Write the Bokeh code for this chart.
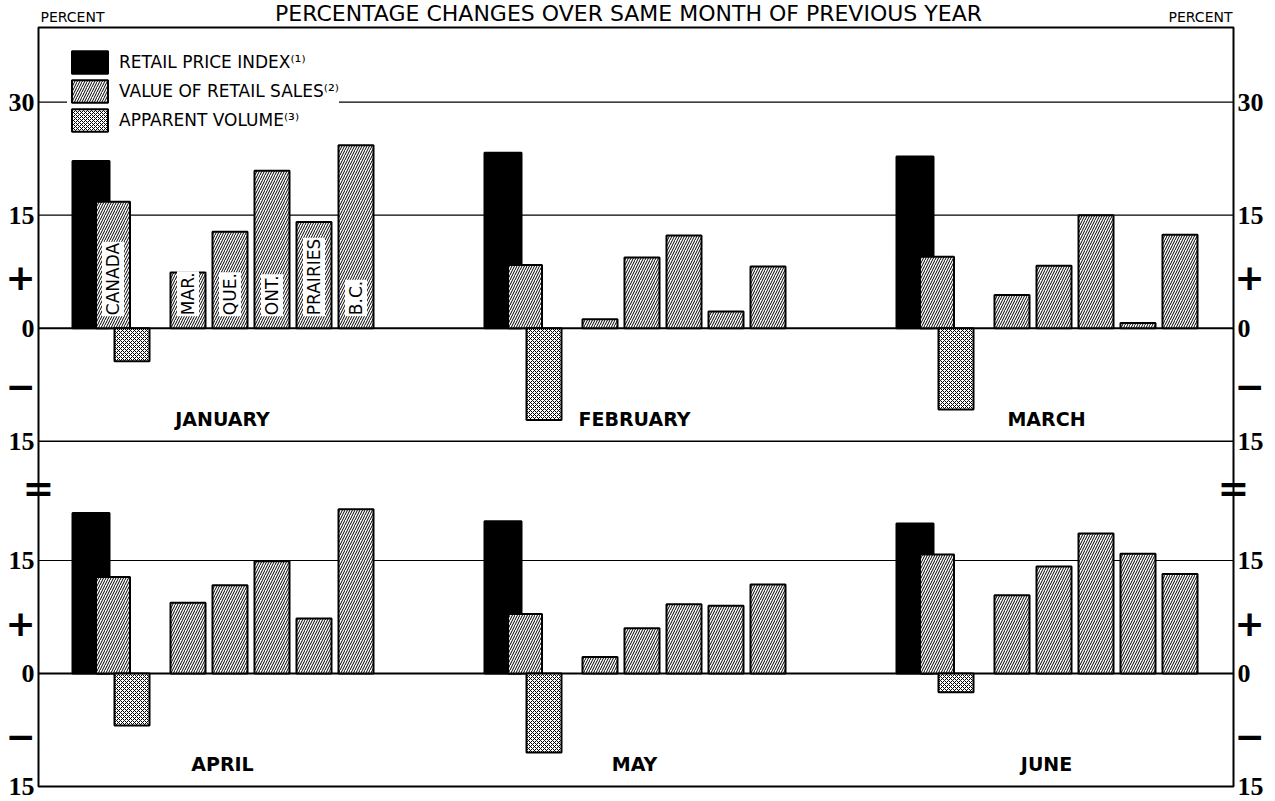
import math
from bokeh.plotting import figure
from bokeh.models import (Legend, LegendItem, LinearAxis, FixedTicker, BoxAnnotation,
                          ColumnDataSource, Range1d)
from bokeh.embed import file_html
from bokeh.resources import INLINE
from bokeh.core.properties import value

# ---------------- data ----------------
months = ["JANUARY", "FEBRUARY", "MARCH", "APRIL", "MAY", "JUNE"]
retail_price_index = [22.2, 23.3, 22.8, 21.3, 20.2, 19.9]
sales_canada = [16.8, 8.4, 9.5, 12.8, 7.9, 15.8]
apparent_volume = [-4.4, -12.2, -10.8, -6.9, -10.5, -2.5]
regions = ["MAR.", "QUE.", "ONT.", "PRAIRIES", "B.C."]
sales_mar = [7.4, 1.2, 4.4, 9.4, 2.2, 10.4]
sales_que = [12.8, 9.4, 8.3, 11.7, 6.0, 14.2]
sales_ont = [20.9, 12.3, 15.0, 14.9, 9.2, 18.6]
sales_prairies = [14.1, 2.2, 0.7, 7.3, 9.0, 15.9]
sales_bc = [24.3, 8.2, 12.4, 21.8, 11.8, 13.2]
canada_label = "CANADA"
legend_labels = ["RETAIL PRICE INDEX\u207d\u00b9\u207e",
                 "VALUE OF RETAIL SALES\u207d\u00b2\u207e",
                 "APPARENT VOLUME\u207d\u00b3\u207e"]
title_text = "PERCENTAGE CHANGES OVER SAME MONTH OF PREVIOUS YEAR"
unit_text = "PERCENT"
upper_ticks = [30, 15, 0, -15]
upper_tick_labels = ["30", "15", "0", "15"]
lower_ticks = [15, 0, -15]
lower_tick_labels = ["15", "0", "15"]
upper_grid = [30, 15, 0, -15]
lower_grid = [15, 0]
sign_labels = ["+", "\u2212"]
break_label = "="

regional_sales = [sales_mar, sales_que, sales_ont, sales_prairies, sales_bc]

# ---------------- layout ----------------
W, H = 1275, 801
FRAME_W = 1195                       # width of the boxed chart area (x units = px)
X_LEFT, X_RIGHT = -38, 1237          # canvas extent in x units
PANEL_OFFSET = 45.84                 # lower panel shift (value units)
Y_CANVAS_TOP, Y_CANVAS_BOTTOM = 43.50, -62.83
BOX_TOP = 39.92
BOX_BOTTOM = -15 - PANEL_OFFSET
GROUP_START, GROUP_PITCH = 34, 412
RPI_DX, RPI_W = 18.5, 37
CAN_DX, CAN_W = 40.5, 34
VOL_DX, VOL_W = 59.5, 35
PROV_DX, PROV_PITCH, PROV_W = 115.5, 42, 35
MONTH_DX, MONTH_Y = 150, -12.0
LABEL_Y = 1.6
SIGN_Y_UPPER = [6.8, -7.7]
SIGN_Y_LOWER = [6.7, -8.3]
SIGN_X = [-18, FRAME_W + 16]
BREAK_Y = -21.15
TITLE_X, TITLE_Y, UNIT_Y = 590, 41.78, 41.25

p = figure(width=W, height=H, output_backend="svg", toolbar_location=None,
           x_range=Range1d(X_LEFT, X_RIGHT),
           y_range=Range1d(Y_CANVAS_BOTTOM, Y_CANVAS_TOP),
           x_axis_location=None, min_border=0, tools="")
p.extra_y_ranges = {"lower": Range1d(Y_CANVAS_BOTTOM + PANEL_OFFSET,
                                     Y_CANVAS_TOP + PANEL_OFFSET)}
p.xgrid.visible = False
p.ygrid.visible = False
p.outline_line_color = None

# chart box
p.add_layout(BoxAnnotation(left=0, right=FRAME_W, top=BOX_TOP, bottom=BOX_BOTTOM,
                           fill_alpha=0, line_color="black", line_alpha=1.0,
                           line_width=2, level="underlay"))

# axes: fixed at the box sides, labels outside the box
all_ticks = upper_ticks + [t - PANEL_OFFSET for t in lower_ticks]
all_labels = upper_tick_labels + lower_tick_labels
overrides = {t: l for t, l in zip(all_ticks, all_labels)}


def style_axis(ax, loc):
    ax.fixed_location = loc
    ax.ticker = FixedTicker(ticks=all_ticks)
    ax.major_label_overrides = overrides
    ax.axis_line_color = None
    ax.major_tick_line_color = None
    ax.minor_tick_line_color = None
    ax.major_tick_out = 0
    ax.major_tick_in = 0
    ax.minor_tick_out = 0
    ax.major_label_standoff = 4
    ax.major_label_text_font = "Liberation Sans Narrow"
    ax.major_label_text_font_style = "bold"
    ax.major_label_text_font_size = "26px"
    ax.major_label_text_color = "black"


style_axis(p.yaxis[0], 0)
right_axis = LinearAxis()
style_axis(right_axis, FRAME_W)
p.add_layout(right_axis, "right")

# grid lines across the box
p.segment(x0=0, x1=FRAME_W, y0=upper_grid, y1=upper_grid, line_color="black",
          line_width=[1.2, 1.2, 2, 1.6])
p.segment(x0=0, x1=FRAME_W, y0=lower_grid, y1=lower_grid, line_color="black",
          line_width=[1.2, 2], y_range_name="lower")

hatch_value = dict(fill_color="white", line_color="black", line_width=2,
                   hatch_pattern="right_diagonal_line", hatch_scale=5, hatch_weight=1,
                   hatch_color="black")
hatch_volume = dict(fill_color="white", line_color="black", line_width=2,
                    hatch_pattern="diagonal_cross", hatch_scale=4, hatch_weight=1,
                    hatch_color="black")

legend_renderers = None
for panel, yr in ((0, "default"), (1, "lower")):
    idx = list(range(3 * panel, 3 * panel + 3))
    gx = [GROUP_START + GROUP_PITCH * (i - 3 * panel) for i in idx]

    src_rpi = ColumnDataSource(dict(x=[g + RPI_DX for g in gx],
                                    top=[retail_price_index[i] for i in idx]))
    r1 = p.vbar(x="x", top="top", bottom=0, width=RPI_W, source=src_rpi,
                y_range_name=yr, fill_color="black", line_color="black", line_width=2)

    src_can = ColumnDataSource(dict(x=[g + CAN_DX for g in gx],
                                    top=[sales_canada[i] for i in idx]))
    r2 = p.vbar(x="x", top="top", bottom=0, width=CAN_W, source=src_can,
                y_range_name=yr, **hatch_value)

    src_vol = ColumnDataSource(dict(x=[g + VOL_DX for g in gx],
                                    top=[apparent_volume[i] for i in idx]))
    r3 = p.vbar(x="x", top="top", bottom=0, width=VOL_W, source=src_vol,
                y_range_name=yr, **hatch_volume)

    px, pt = [], []
    for k, g in enumerate(gx):
        for j, series in enumerate(regional_sales):
            px.append(g + PROV_DX + PROV_PITCH * j)
            pt.append(series[idx[k]])
    src_prov = ColumnDataSource(dict(x=px, top=pt))
    p.vbar(x="x", top="top", bottom=0, width=PROV_W, source=src_prov,
           y_range_name=yr, **hatch_value)

    src_month = ColumnDataSource(dict(x=[g + MONTH_DX for g in gx], y=[MONTH_Y] * 3,
                                      text=[months[i] for i in idx]))
    p.text(x="x", y="y", text="text", source=src_month, y_range_name=yr,
           text_align="center", text_baseline="middle", text_font=value("DejaVu Sans"),
           text_font_style="bold", text_font_size="19px", text_color="black")

    sign_y = SIGN_Y_UPPER if panel == 0 else SIGN_Y_LOWER
    src_sign = ColumnDataSource(dict(
        x=[sx for sx in SIGN_X for _ in sign_labels],
        y=[sy for _ in SIGN_X for sy in sign_y],
        text=[t for _ in SIGN_X for t in sign_labels]))
    p.text(x="x", y="y", text="text", source=src_sign, y_range_name=yr,
           text_align="center", text_baseline="middle", text_font=value("DejaVu Sans"),
           text_font_style="bold", text_font_size="36px", text_color="black")

    if panel == 0:
        legend_renderers = [r1, r2, r3]
        g0 = gx[0]
        lx = [g0 + CAN_DX] + [g0 + PROV_DX + PROV_PITCH * j for j in range(len(regions))]
        src_lab = ColumnDataSource(dict(x=lx, y=[LABEL_Y] * len(lx),
                                        text=[canada_label] + regions))
        p.text(x="x", y="y", text="text", source=src_lab, angle=math.pi / 2,
               text_align="left", text_baseline="middle", text_font=value("DejaVu Sans"),
               text_font_size="17px", text_color="black", background_fill_color="white",
               padding=1)

# axis break marks
p.text(x=[0, FRAME_W], y=[BREAK_Y, BREAK_Y], text=[break_label, break_label],
       text_align="center", text_baseline="middle", text_font=value("DejaVu Sans"),
       text_font_style="bold", text_font_size="38px", text_color="black")

# title and unit labels
p.text(x=[TITLE_X], y=[TITLE_Y], text=[title_text], text_align="center",
       text_baseline="alphabetic", text_font=value("DejaVu Sans"),
       text_font_size="22px", text_color="black")
p.text(x=[2, FRAME_W - 1], y=[UNIT_Y, UNIT_Y], text=[unit_text, unit_text],
       text_align=["left", "right"], text_baseline="alphabetic",
       text_font=value("DejaVu Sans"), text_font_size="14px", text_color="black")

# legend (vbar legend swatches are inset by 10% of the glyph box)
legend = Legend(items=[LegendItem(label=l, renderers=[r])
                       for l, r in zip(legend_labels, legend_renderers)],
                location=(67, 667), margin=0, padding=10,
                glyph_width=45, glyph_height=28, label_height=28,
                label_standoff=7, spacing=1,
                label_text_font="DejaVu Sans", label_text_font_size="17px",
                label_text_color="black", border_line_color=None,
                background_fill_color="white", background_fill_alpha=1.0)
p.add_layout(legend)

open("out.html", "w").write(file_html(p, INLINE))
